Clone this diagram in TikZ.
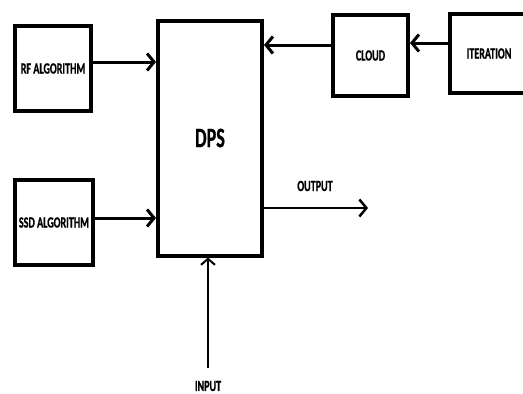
\documentclass[tikz,border=0pt]{standalone}
\usepackage{fontspec}
\newfontfamily\boxfont{Carlito}[FakeStretch=0.65, FakeBold=0.8]
\usepackage{tikz}
\usetikzlibrary{arrows.meta}

\begin{document}
\begin{tikzpicture}[
    x=1pt, y=-1pt,
    block/.style={rectangle, draw=black, fill=white, line width=4pt, inner sep=0pt, font=\boxfont\bfseries\fontsize{15.5}{17}\selectfont},
    arrow/.style={-{Straight Barb[length=7pt 0, width=17pt 0]}, line width=3pt, color=black},
    thinarrow/.style={-{Straight Barb[length=6pt 0, width=14pt 0]}, line width=2pt, color=black},
    label/.style={font=\boxfont\bfseries\fontsize{15.5}{17}\selectfont, inner sep=0pt}
]
\fill[white] (0,0) rectangle (523,394);
\useasboundingbox (0,0) rectangle (523,394);
\clip (0,0) rectangle (523,394);

\node[block, minimum width=76pt, minimum height=85pt] (rf) at (53,68.5) {RF ALGORITHM};
\node[block, minimum width=78pt, minimum height=85pt] (ssd) at (54,222.5) {SSD ALGORITHM};
\node[block, minimum width=104pt, minimum height=235pt, font=\boxfont\bfseries\fontsize{28}{30}\selectfont] (dps) at (210,138) {DPS};
\node[block, minimum width=75pt, minimum height=81pt] (cloud) at (370.5,55.5) {CLOUD};
\node[block, minimum width=78pt, minimum height=79pt] (iter) at (489,53.5) {ITERATION};

% connector ends
\coordinate (rfout) at ([yshift=6.5pt]rf.east);
\coordinate (ssdout) at ([yshift=4.5pt]ssd.east);
\coordinate (cloudout) at ([yshift=10.5pt]cloud.west);
\coordinate (iterout) at ([yshift=10.5pt]iter.west);
\coordinate (outend) at (368,208);
\coordinate (instart) at (208,368);

\draw[arrow] (rfout) -- (rfout -| dps.west);
\draw[arrow] (ssdout) -- (ssdout -| dps.west);
\draw[arrow] (iterout) -- (iterout -| cloud.east);
\draw[arrow] (cloudout) -- (cloudout -| dps.east);
\draw[arrow, line width=2.5pt] (outend -| dps.east) -- (outend);
\draw[thinarrow] (instart) -- (instart |- dps.south);

\node[label] at (315,186) {OUTPUT};
\node[label] at (208,386) {INPUT};

\end{tikzpicture}
\end{document}
